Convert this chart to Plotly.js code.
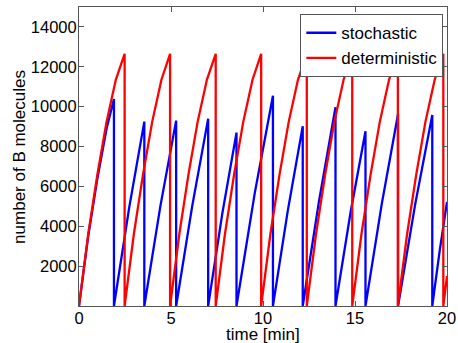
<!DOCTYPE html>
<html>
<head>
<meta charset="utf-8">
<script src="https://cdn.plot.ly/plotly-3.0.1.min.js"></script>
<style>html,body{margin:0;padding:0;background:#fff;}#chart{width:458px;height:343px;}</style>
</head>
<body>
<div id="chart"></div>
<script>
// stochastic trajectory (time in min, number of B molecules)
var stochT = [0, 0.5, 1.0, 1.5, 1.9, 1.9, 2.73, 3.55, 3.55, 4.42, 5.28, 5.28, 6.15, 7.02, 7.02, 7.79, 8.56, 8.56,
              9.55, 10.54, 10.54, 11.35, 12.16, 12.16, 13.05, 13.94, 13.94, 14.76, 15.57, 15.57, 16.46, 17.34,
              17.34, 18.27, 19.2, 19.2, 19.6, 20];
var stochY = [0, 3500, 6400, 8900, 10385, 0, 4950, 9250, 0, 5000, 9300, 0, 5000, 9400, 0, 4650, 8700, 0,
              5650, 10550, 0, 4800, 9017, 0, 5300, 9967, 0, 4700, 8767, 0, 5150, 9633,
              0, 5100, 9583, 0, 2750, 5217];
// deterministic trajectory
var detT = [0, 0.5, 1.0, 1.5, 2.0, 2.48, 2.48,
            2.98, 3.48, 3.98, 4.48, 4.95, 4.95,
            5.45, 5.95, 6.45, 6.95, 7.43, 7.43,
            7.93, 8.43, 8.93, 9.43, 9.9, 9.9,
            10.4, 10.9, 11.4, 11.9, 12.38, 12.38,
            12.88, 13.38, 13.88, 14.38, 14.85, 14.85,
            15.35, 15.85, 16.35, 16.85, 17.33, 17.33,
            17.83, 18.33, 18.83, 19.33, 19.8, 19.8, 20];
var detY = [0, 3600, 6600, 9250, 11350, 12650, 0,
            3600, 6600, 9250, 11350, 12650, 0,
            3600, 6600, 9250, 11350, 12650, 0,
            3600, 6600, 9250, 11350, 12650, 0,
            3600, 6600, 9250, 11350, 12650, 0,
            3600, 6600, 9250, 11350, 12650, 0,
            3600, 6600, 9250, 11350, 12650, 0,
            3600, 6600, 9250, 11350, 12650, 0, 1500];
var xTicks = [0, 5, 10, 15, 20];
var yTicks = [2000, 4000, 6000, 8000, 10000, 12000, 14000];
var xTitle = 'time [min]';
var yTitle = 'number of B molecules';

var fam = 'Liberation Sans, Arial, sans-serif';
var font = {family: fam, size: 16.5, color: '#000'};
var titleFont = {family: fam, size: 17, color: '#000'};
var traces = [
  {x: stochT, y: stochY, type: 'scatter', mode: 'lines', name: 'stochastic',
   line: {color: '#0000ff', width: 2.3}},
  {x: detT, y: detY, type: 'scatter', mode: 'lines', name: 'deterministic',
   line: {color: '#ff0000', width: 2.3}}
];
var layout = {
  width: 458, height: 343,
  margin: {l: 79, r: 11, t: 7, b: 37, pad: 0},
  paper_bgcolor: '#fff', plot_bgcolor: '#fff',
  font: font,
  showlegend: true,
  legend: {x: 0.99, xanchor: 'right', y: 0.976, yanchor: 'top',
           bgcolor: '#fff', bordercolor: '#555', borderwidth: 1,
           font: {family: fam, size: 17, color: '#000'},
           tracegroupgap: 0},
  xaxis: {range: [0, 20], tickvals: xTicks, ticktext: xTicks.map(String),
          ticks: 'inside', ticklen: 5, tickcolor: '#555', showgrid: false, zeroline: false,
          showline: true, linecolor: '#555', linewidth: 1, mirror: 'ticks',
          ticklabelstandoff: -3, tickfont: font},
  yaxis: {range: [0, 15000], tickvals: yTicks, ticktext: yTicks.map(String),
          ticks: 'inside', ticklen: 5, tickcolor: '#555', showgrid: false, zeroline: false,
          showline: true, linecolor: '#555', linewidth: 1, mirror: 'ticks',
          ticklabelstandoff: -2, tickfont: font},
  annotations: [
    {text: xTitle, xref: 'paper', yref: 'paper', x: 0.5, y: -0.096,
     xanchor: 'center', yanchor: 'middle', showarrow: false, font: titleFont},
    {text: yTitle, xref: 'paper', yref: 'paper', x: -0.162, y: 0.5, textangle: -90,
     xanchor: 'center', yanchor: 'middle', showarrow: false, font: titleFont}
  ]
};
Plotly.newPlot('chart', traces, layout, {staticPlot: true, displayModeBar: false});
</script>
</body>
</html>
